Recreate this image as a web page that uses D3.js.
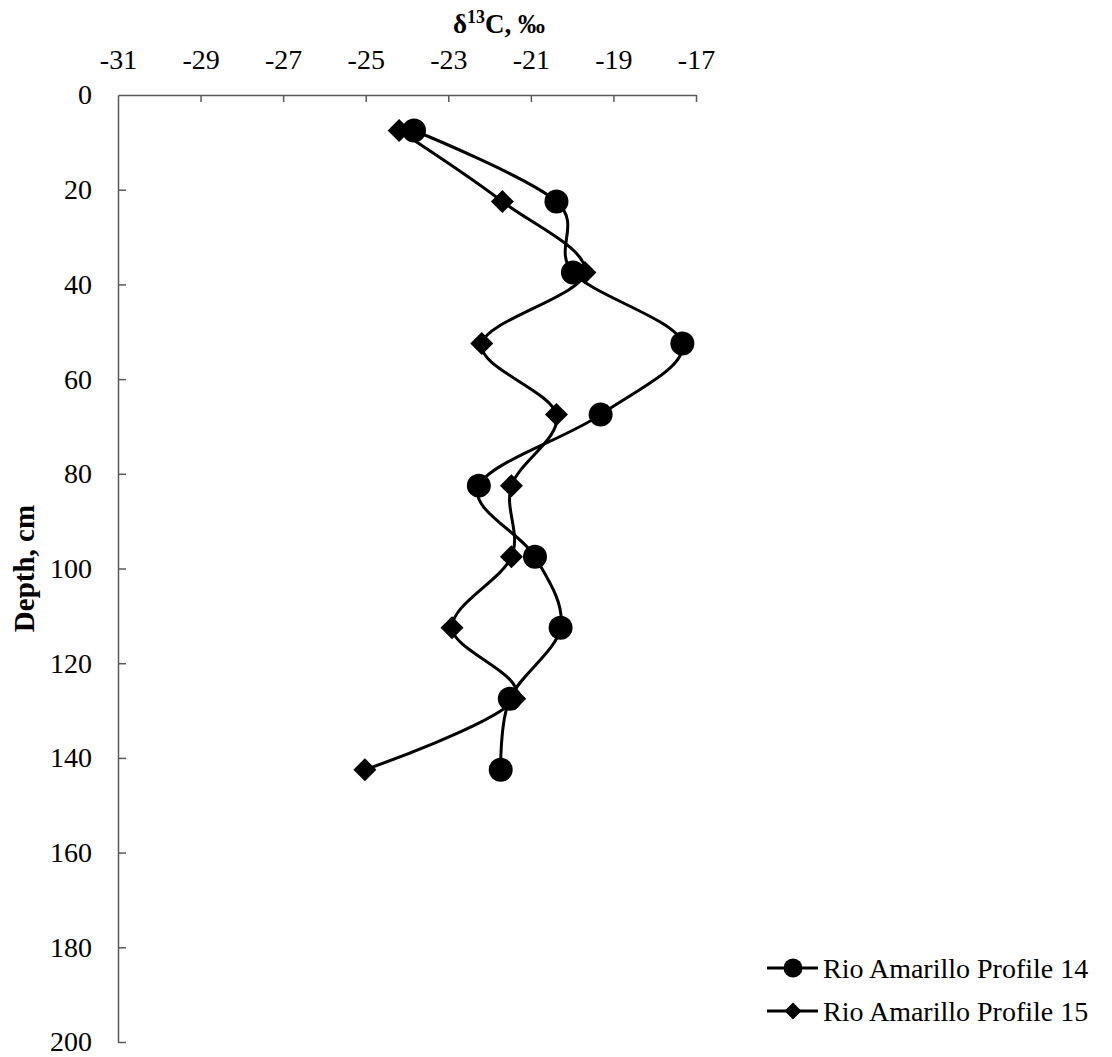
<!DOCTYPE html>
<html>
<head>
<meta charset="utf-8">
<script src="https://cdn.jsdelivr.net/npm/d3@7"></script>
<style>
  html, body { margin: 0; padding: 0; background: #fff; }
  svg { display: block; }
  svg text { font-family: 'Liberation Serif', 'Times New Roman', Times, serif !important; }
</style>
</head>
<body>
<svg id="chart" width="1112" height="1057"></svg>
<script>
// ── Data ─────────────────────────────────────────────
const depths    = [7.5, 22.5, 37.5, 52.5, 67.5, 82.5, 97.5, 112.5, 127.5, 142.5];
const profile14 = [-23.83, -20.38, -19.98, -17.33, -19.31, -22.26, -20.9, -20.28, -21.51, -21.73];
const profile15 = [-24.19, -21.69, -19.69, -22.19, -20.38, -21.47, -21.47, -22.91, -21.39, -25.02];
const xTicks = [-31, -29, -27, -25, -23, -21, -19, -17];
const yTicks = [0, 20, 40, 60, 80, 100, 120, 140, 160, 180, 200];
const seriesNames = ['Rio Amarillo Profile 14', 'Rio Amarillo Profile 15'];

const series = [
  { name: seriesNames[0], marker: 'circle',  pts: depths.map((d, i) => ({ x: profile14[i], y: d })) },
  { name: seriesNames[1], marker: 'diamond', pts: depths.map((d, i) => ({ x: profile15[i], y: d })) },
];

// ── Layout ───────────────────────────────────────────
const FONT = "'Liberation Serif', 'Times New Roman', Times, serif";
const svg = d3.select('#chart').attr('font-family', FONT);
const axisCol = '#595959';
const x = d3.scaleLinear().domain([-31, -17]).range([118, 696]);
const y = d3.scaleLinear().domain([0, 200]).range([95, 1042]);

// axes
const gx = svg.append('g').attr('transform', `translate(0,${y(0)})`)
  .call(d3.axisTop(x).tickValues(xTicks).tickSizeInner(-7).tickSizeOuter(0).tickPadding(26).tickFormat(d3.format('d')));
const gy = svg.append('g').attr('transform', `translate(${x(-31)},0)`)
  .call(d3.axisLeft(y).tickValues(yTicks).tickSizeInner(-8).tickSizeOuter(0).tickPadding(26).tickFormat(d3.format('d')));

[gx, gy].forEach(g => {
  g.attr('font-family', FONT).attr('font-size', null);
  g.select('.domain').attr('stroke', axisCol).attr('stroke-width', 1.5);
  g.selectAll('.tick line').attr('stroke', axisCol).attr('stroke-width', 1.5);
  g.selectAll('.tick text')
    .attr('fill', '#000')
    .style('font-family', FONT)
    .style('font-size', '28px');
});
gx.selectAll('.tick text').text(d => d < 0 ? '-' + Math.abs(d) : d);
gx.selectAll('.tick').filter(d => d === -31).select('line').remove();
gy.selectAll('.tick').filter(d => d === 0).select('line').remove();

// axis titles
const title = svg.append('text')
  .attr('x', 499).attr('y', 33)
  .attr('text-anchor', 'middle')
  .style('font-family', FONT)
  .attr('font-size', '27px').attr('font-weight', 'bold');
title.append('tspan').text('δ');
title.append('tspan').attr('font-size', '18px').attr('dy', -10).text('13');
title.append('tspan').attr('dy', 10).text('C, ‰');

svg.append('text')
  .attr('transform', `translate(34,${(y(0) + y(200)) / 2}) rotate(-90)`)
  .attr('text-anchor', 'middle')
  .style('font-family', FONT)
  .attr('font-size', '29px').attr('font-weight', 'bold')
  .text('Depth, cm');

// ── Series ───────────────────────────────────────────
const line = d3.line().x(d => x(d.x)).y(d => y(d.y)).curve(d3.curveCardinal.tension(0));

function drawMarker(g, type, cx, cy, size) {
  if (type === 'circle') {
    g.append('circle').attr('cx', cx).attr('cy', cy).attr('r', size).attr('fill', '#000');
  } else {
    g.append('path')
      .attr('d', `M${cx},${cy - size}L${cx + size},${cy}L${cx},${cy + size}L${cx - size},${cy}Z`)
      .attr('fill', '#000');
  }
}

series.forEach(s => {
  svg.append('path').datum(s.pts)
    .attr('d', line)
    .attr('fill', 'none')
    .attr('stroke', '#000')
    .attr('stroke-width', 3);
});
series.forEach(s => {
  const g = svg.append('g');
  s.pts.forEach(p => drawMarker(g, s.marker, x(p.x), y(p.y), s.marker === 'circle' ? 12 : 11.5));
});

// ── Legend ───────────────────────────────────────────
const legRows = [968, 1011];
series.forEach((s, i) => {
  const ly = legRows[i];
  const g = svg.append('g');
  g.append('line').attr('x1', 767).attr('x2', 818).attr('y1', ly).attr('y2', ly)
    .attr('stroke', '#000').attr('stroke-width', 3);
  drawMarker(g, s.marker, 793, ly, s.marker === 'circle' ? 9.5 : 8.5);
  g.append('text').attr('x', 823).attr('y', ly).attr('dy', '0.35em')
    .style('font-family', FONT)
    .attr('font-size', '28px').text(s.name);
});
</script>
</body>
</html>
